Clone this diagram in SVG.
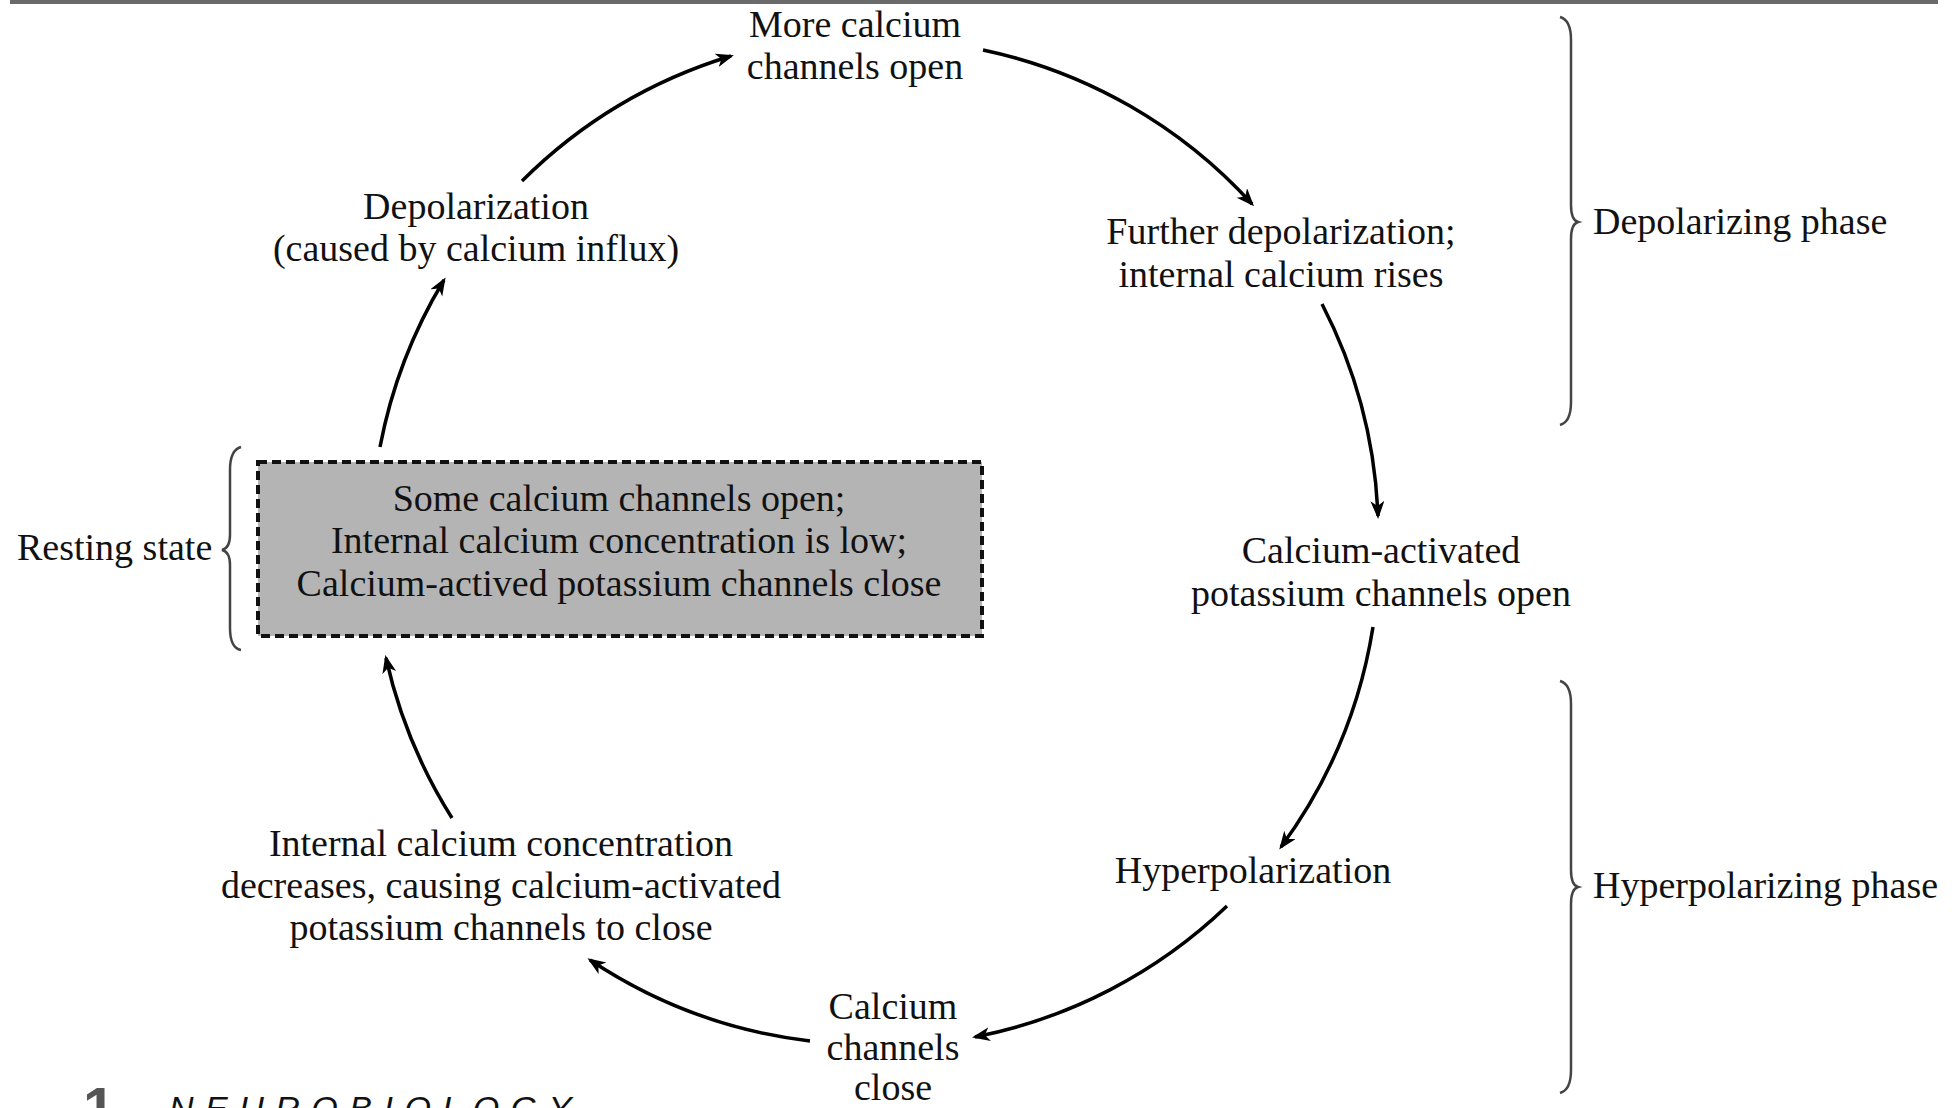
<svg xmlns="http://www.w3.org/2000/svg" width="1959" height="1108" viewBox="0 0 1959 1108">
<style>
.t{font-family:"Liberation Serif","Times New Roman",serif;font-size:38px;fill:#111;text-anchor:middle}
.l{text-anchor:start}
#connectors path{fill:none;stroke:#000;stroke-width:3.5;marker-end:url(#ah)}
.brace{fill:none;stroke:#444;stroke-width:2.5}
</style>
<defs>
<marker id="ah" markerUnits="userSpaceOnUse" markerWidth="20" markerHeight="16" refX="15" refY="7" orient="auto">
<path d="M0,0 L18,7 L0,14 L5,7 z" fill="#000"/>
</marker>
</defs>
<rect x="0" y="0" width="1959" height="1108" fill="#fff"/>
<rect x="10" y="0" width="1928" height="4" fill="#6a6a6a"/>

<g id="connectors">
<path d="M522,181 A505,505 0 0 1 731,56"/>
<path d="M983,50 A505,505 0 0 1 1252,204"/>
<path d="M1322,304 A505,505 0 0 1 1378,516"/>
<path d="M1373,627 A505,505 0 0 1 1281,847"/>
<path d="M1227,906 A505,505 0 0 1 975,1037"/>
<path d="M810,1041 A505,505 0 0 1 590,960"/>
<path d="M452,818 A505,505 0 0 1 386,658"/>
<path d="M380,447 A505,505 0 0 1 444,280"/>
</g>

<g id="n-more">
<text class="t" x="855" y="37">More calcium</text>
<text class="t" x="855" y="79">channels open</text>
</g>
<g id="n-further">
<text class="t" x="1281" y="244">Further depolarization;</text>
<text class="t" x="1281" y="287">internal calcium rises</text>
</g>
<g id="n-kopen">
<text class="t" x="1381" y="563">Calcium-activated</text>
<text class="t" x="1381" y="606">potassium channels open</text>
</g>
<g id="n-hyper">
<text class="t" x="1253" y="883">Hyperpolarization</text>
</g>
<g id="n-caclose">
<text class="t" x="893" y="1019">Calcium</text>
<text class="t" x="893" y="1060">channels</text>
<text class="t" x="893" y="1100">close</text>
</g>
<g id="n-decrease">
<text class="t" x="501" y="856">Internal calcium concentration</text>
<text class="t" x="501" y="898">decreases, causing calcium-activated</text>
<text class="t" x="501" y="940">potassium channels to close</text>
</g>
<g id="n-depol">
<text class="t" x="476" y="219">Depolarization</text>
<text class="t" x="476" y="261">(caused by calcium influx)</text>
</g>
<g id="n-rest">
<rect x="258" y="462" width="724" height="174" fill="#b4b4b4" stroke="#111" stroke-width="4" stroke-dasharray="9,5"/>
<text class="t" x="619" y="511">Some calcium channels open;</text>
<text class="t" x="619" y="553">Internal calcium concentration is low;</text>
<text class="t" x="619" y="596">Calcium-actived potassium channels close</text>
</g>

<g id="lbl-resting">
<path class="brace" d="M241,447 Q230,450 230,470 L230,535 Q230,548 222,550 Q230,552 230,565 L230,628 Q230,648 241,650"/>
<text class="t l" x="17" y="560">Resting state</text>
</g>
<g id="lbl-depol-phase">
<path class="brace" d="M1560,17 Q1571,20 1571,40 L1571,205 Q1571,220 1578,222 Q1571,224 1571,239 L1571,402 Q1571,422 1560,425"/>
<text class="t l" x="1593" y="234">Depolarizing phase</text>
</g>
<g id="lbl-hyper-phase">
<path class="brace" d="M1560,681 Q1571,684 1571,704 L1571,870 Q1571,885 1578,887 Q1571,889 1571,904 L1571,1070 Q1571,1090 1560,1093"/>
<text class="t l" x="1593" y="898">Hyperpolarizing phase</text>
</g>

<g id="logo">
<text x="83" y="1128" font-family="Liberation Sans, Arial, sans-serif" font-size="58" font-weight="bold" fill="#555">1</text>
<text x="169" y="1120" font-family="Liberation Sans, Arial, sans-serif" font-size="34" font-style="italic" letter-spacing="11.5" fill="#111">NEUROBIOLOGY</text>
</g>
</svg>
